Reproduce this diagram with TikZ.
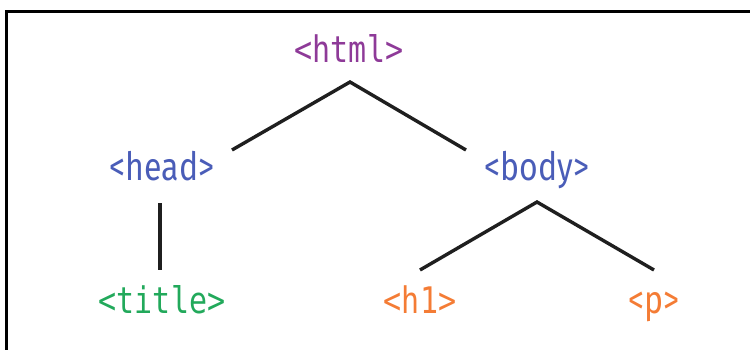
\documentclass[tikz,border=0pt]{standalone}
\usepackage{fontspec}
\setmainfont{Fira Sans}
\newfontfamily\codefont{DejaVu Sans Mono}
\definecolor{tagpurple}{HTML}{8E3A98}
\definecolor{tagblue}{HTML}{4A5DB8}
\definecolor{taggreen}{HTML}{22A95B}
\definecolor{tagorange}{HTML}{F47C35}
% tall, slightly condensed tag lettering
\newcommand{\tagtext}[1]{\scalebox{1}[1.22]{#1}}
\begin{document}
\begin{tikzpicture}[x=1pt,y=-1pt,
  mono/.style={font=\codefont\fontsize{30}{32}\selectfont, inner sep=0pt, anchor=base},
  prop/.style={font=\fontsize{32}{35}\selectfont, inner sep=0pt, anchor=base},
  edge/.style={line width=3.4pt, color=black!88}]
  \useasboundingbox (0,0) rectangle (750,350);
  % frame: only top and left edges are shown
  \draw[line width=3pt] (6,352) -- (6,12) -- (752,12);

  % tags
  \node[mono, text=tagpurple] (html)  at (349,63)  {\tagtext{<html>}};
  \node[prop, text=tagblue]   (head)  at (162,181) {\tagtext{<head>}};
  \node[prop, text=tagblue]   (body)  at (537,181) {\tagtext{<body>}};
  \node[mono, text=taggreen]  (title) at (162,313) {\tagtext{<title>}};
  \node[mono, text=tagorange] (h1)    at (420,313) {\tagtext{<h1>}};
  \node[prop, text=tagorange] (p)     at (654,313) {\tagtext{<p>}};

  % connector end points
  \coordinate (htmltop) at (350,82);
  \coordinate (headin)  at (232,150);
  \coordinate (bodyin)  at (466,150);
  \coordinate (headout) at (160,203);
  \coordinate (titlein) at (160,270);
  \coordinate (bodytop) at (537,202);
  \coordinate (h1in)    at (420,270);
  \coordinate (pin)     at (654,270);

  \draw[edge] (headin) -- (htmltop) -- (bodyin);
  \draw[edge] (headout) -- (titlein);
  \draw[edge] (h1in) -- (bodytop) -- (pin);
\end{tikzpicture}
\end{document}
